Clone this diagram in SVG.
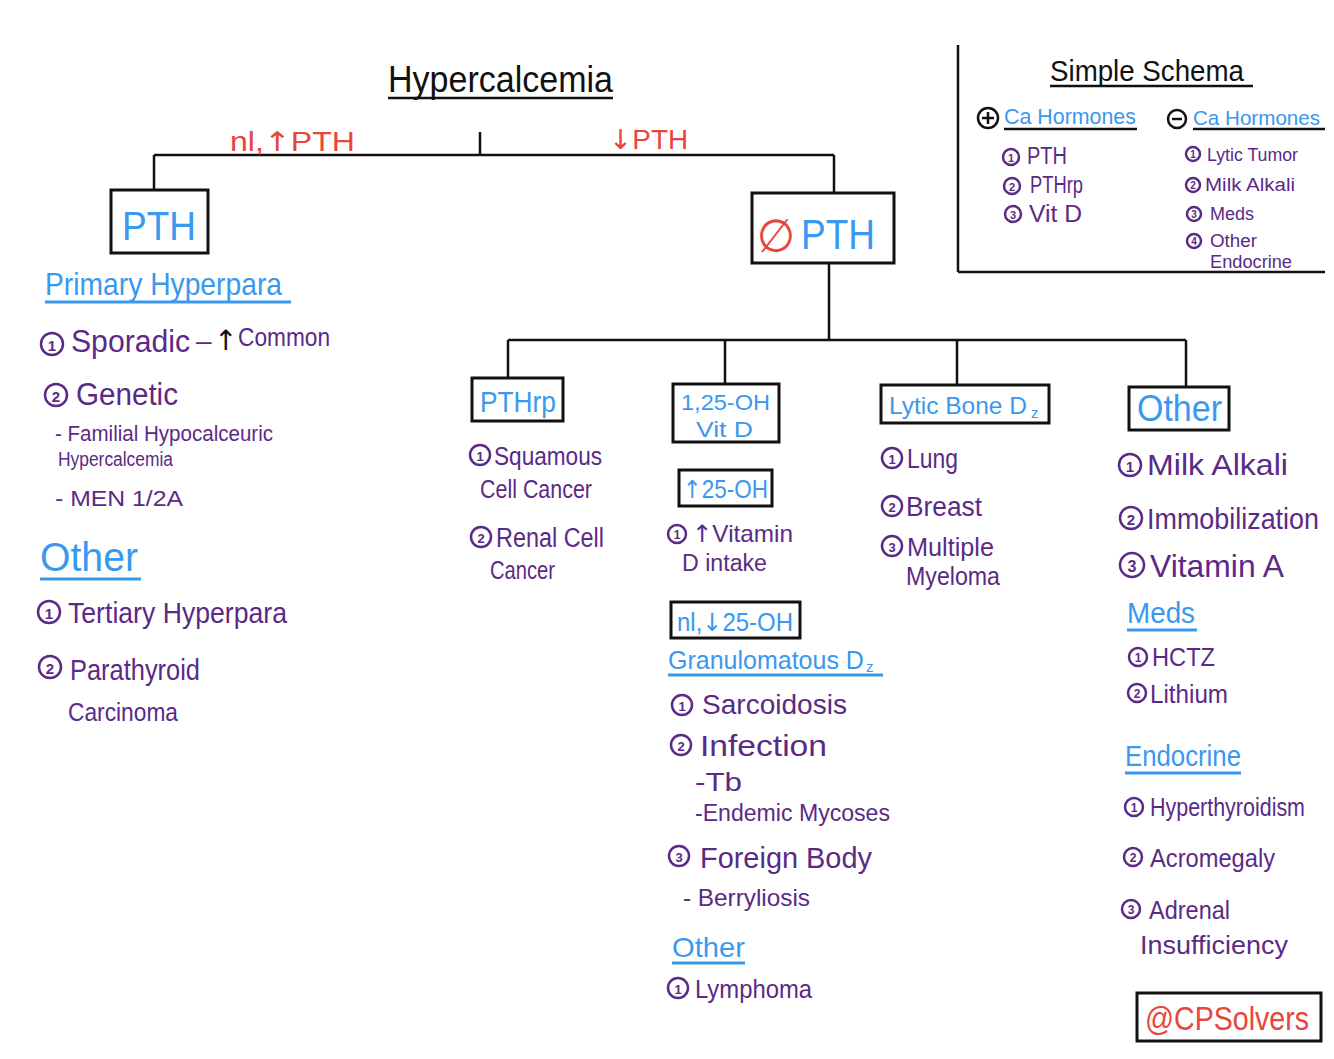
<svg xmlns="http://www.w3.org/2000/svg" width="1334" height="1059" viewBox="0 0 1334 1059">
<style>
text{font-family:"Liberation Sans","DejaVu Sans",sans-serif;}
.ar{font-family:"DejaVu Sans",sans-serif;}
.p{fill:#5b2a86;}
.b{fill:#3a98ee;}
.r{fill:#e8453c;}
.k{fill:#111;}
.box{fill:#fff;stroke:#111;stroke-width:3;}
.ln{stroke:#111;stroke-width:2.5;fill:none;}
.ub{stroke:#3a98ee;stroke-width:3;}
.uk{stroke:#111;stroke-width:2.5;}
.nc{fill:none;stroke:#5b2a86;stroke-width:2.5;}
.nd{fill:#5b2a86;text-anchor:middle;font-weight:bold;}
</style>
<rect width="1334" height="1059" fill="#fff"/>

<g id="connectors">
  <line class="ln" x1="480" y1="132" x2="480" y2="155"/>
  <line class="ln" x1="154" y1="155" x2="834" y2="155"/>
  <line class="ln" x1="154" y1="155" x2="154" y2="190"/>
  <line class="ln" x1="834" y1="155" x2="834" y2="193"/>
  <line class="ln" x1="829" y1="263" x2="829" y2="340"/>
  <line class="ln" x1="508" y1="340" x2="1186" y2="340"/>
  <line class="ln" x1="508" y1="340" x2="508" y2="378"/>
  <line class="ln" x1="725" y1="340" x2="725" y2="384"/>
  <line class="ln" x1="957" y1="340" x2="957" y2="385"/>
  <line class="ln" x1="1186" y1="340" x2="1186" y2="387"/>
  <text class="r" x="230" y="151" font-size="27" textLength="125" lengthAdjust="spacingAndGlyphs">nl,<tspan class="ar">↑</tspan>PTH</text>
  <text class="r" x="609" y="149" font-size="27" textLength="79" lengthAdjust="spacingAndGlyphs"><tspan class="ar">↓</tspan>PTH</text>
</g>

<g id="title">
  <text class="k" x="388" y="92" font-size="36" textLength="225" lengthAdjust="spacingAndGlyphs">Hypercalcemia</text>
  <line class="uk" x1="388" y1="98" x2="613" y2="98"/>
</g>

<g id="node-pth">
  <rect class="box" x="111" y="190" width="97" height="63"/>
  <text class="b" x="122" y="240" font-size="40" textLength="74" lengthAdjust="spacingAndGlyphs">PTH</text>
</g>

<g id="node-lowpth">
  <rect class="box" x="752" y="193" width="142" height="70"/>
  <text class="r" x="757" y="252" font-size="46" textLength="38" lengthAdjust="spacingAndGlyphs">∅</text>
  <text class="b" x="801" y="249" font-size="42" textLength="74" lengthAdjust="spacingAndGlyphs">PTH</text>
</g>

<g id="primary-hyperpara">
  <text class="b" x="45" y="295" font-size="32" textLength="237" lengthAdjust="spacingAndGlyphs">Primary Hyperpara</text>
  <line class="ub" x1="45" y1="302" x2="291" y2="302"/>
  <circle class="nc" cx="52" cy="344" r="11"/><text class="nd" x="52" y="351" font-size="15">1</text>
  <text class="p" x="71" y="352" font-size="31" textLength="119" lengthAdjust="spacingAndGlyphs">Sporadic</text>
  <text class="p" x="196" y="350" font-size="28">–</text>
  <text class="k ar" x="214" y="350" font-size="28">↑</text>
  <text class="p" x="238" y="346" font-size="25" textLength="92" lengthAdjust="spacingAndGlyphs">Common</text>
  <circle class="nc" cx="56" cy="395" r="11"/><text class="nd" x="56" y="402" font-size="15">2</text>
  <text class="p" x="76" y="405" font-size="31" textLength="102" lengthAdjust="spacingAndGlyphs">Genetic</text>
  <text class="p" x="55" y="441" font-size="22" textLength="218" lengthAdjust="spacingAndGlyphs">- Familial Hypocalceuric</text>
  <text class="p" x="58" y="466" font-size="20" textLength="115" lengthAdjust="spacingAndGlyphs">Hypercalcemia</text>
  <text class="p" x="55" y="506" font-size="22" textLength="128" lengthAdjust="spacingAndGlyphs">- MEN 1/2A</text>
</g>

<g id="other-left">
  <text class="b" x="40" y="571" font-size="40" textLength="98" lengthAdjust="spacingAndGlyphs">Other</text>
  <line class="ub" x1="40" y1="579" x2="141" y2="579"/>
  <circle class="nc" cx="49" cy="612" r="11"/><text class="nd" x="49" y="619" font-size="15">1</text>
  <text class="p" x="68" y="623" font-size="29" textLength="219" lengthAdjust="spacingAndGlyphs">Tertiary Hyperpara</text>
  <circle class="nc" cx="50" cy="667" r="11"/><text class="nd" x="50" y="674" font-size="15">2</text>
  <text class="p" x="70" y="680" font-size="29" textLength="130" lengthAdjust="spacingAndGlyphs">Parathyroid</text>
  <text class="p" x="68" y="721" font-size="25" textLength="110" lengthAdjust="spacingAndGlyphs">Carcinoma</text>
</g>

<g id="node-pthrp">
  <rect class="box" x="472" y="378" width="91" height="43"/>
  <text class="b" x="480" y="412" font-size="29" textLength="76" lengthAdjust="spacingAndGlyphs">PTHrp</text>
  <circle class="nc" cx="480" cy="455" r="10"/><text class="nd" x="480" y="461" font-size="13">1</text>
  <text class="p" x="494" y="465" font-size="26" textLength="108" lengthAdjust="spacingAndGlyphs">Squamous</text>
  <text class="p" x="480" y="498" font-size="26" textLength="112" lengthAdjust="spacingAndGlyphs">Cell Cancer</text>
  <circle class="nc" cx="481" cy="537" r="10"/><text class="nd" x="481" y="543" font-size="13">2</text>
  <text class="p" x="496" y="547" font-size="27" textLength="108" lengthAdjust="spacingAndGlyphs">Renal Cell</text>
  <text class="p" x="490" y="579" font-size="25" textLength="65" lengthAdjust="spacingAndGlyphs">Cancer</text>
</g>

<g id="node-vitd">
  <rect class="box" x="673" y="384" width="106" height="58"/>
  <text class="b" x="681" y="410" font-size="22" textLength="89" lengthAdjust="spacingAndGlyphs">1,25-OH</text>
  <text class="b" x="696" y="437" font-size="22" textLength="57" lengthAdjust="spacingAndGlyphs">Vit D</text>
</g>

<g id="node-up25">
  <rect class="box" x="679" y="470" width="93" height="36"/>
  <text class="b" x="683" y="498" font-size="25" textLength="85" lengthAdjust="spacingAndGlyphs"><tspan class="ar">↑</tspan>25-OH</text>
  <circle class="nc" cx="677" cy="534" r="9"/><text class="nd" x="677" y="539" font-size="12">1</text>
  <text class="p" x="692" y="542" font-size="24" textLength="101" lengthAdjust="spacingAndGlyphs"><tspan class="ar">↑</tspan>Vitamin</text>
  <text class="p" x="682" y="571" font-size="23" textLength="85" lengthAdjust="spacingAndGlyphs">D intake</text>
</g>

<g id="node-nl25">
  <rect class="box" x="671" y="602" width="129" height="36"/>
  <text class="b" x="677" y="631" font-size="25" textLength="116" lengthAdjust="spacingAndGlyphs">nl,<tspan class="ar">↓</tspan>25-OH</text>
  <text class="b" x="668" y="669" font-size="25">Granulomatous D</text>
  <text class="b" x="866" y="672" font-size="15">z</text>
  <line class="ub" x1="668" y1="675" x2="883" y2="675"/>
  <circle class="nc" cx="682" cy="705" r="10"/><text class="nd" x="682" y="711" font-size="13">1</text>
  <text class="p" x="702" y="714" font-size="28" textLength="145" lengthAdjust="spacingAndGlyphs">Sarcoidosis</text>
  <circle class="nc" cx="681" cy="745" r="10"/><text class="nd" x="681" y="751" font-size="13">2</text>
  <text class="p" x="700" y="756" font-size="29" textLength="127" lengthAdjust="spacingAndGlyphs">Infection</text>
  <text class="p" x="695" y="791" font-size="25" textLength="47" lengthAdjust="spacingAndGlyphs">-Tb</text>
  <text class="p" x="695" y="821" font-size="23" textLength="195" lengthAdjust="spacingAndGlyphs">-Endemic Mycoses</text>
  <circle class="nc" cx="679" cy="856" r="10"/><text class="nd" x="679" y="862" font-size="13">3</text>
  <text class="p" x="700" y="868" font-size="29" textLength="172" lengthAdjust="spacingAndGlyphs">Foreign Body</text>
  <text class="p" x="683" y="906" font-size="24" textLength="127" lengthAdjust="spacingAndGlyphs">- Berryliosis</text>
  <text class="b" x="672" y="957" font-size="28" textLength="73" lengthAdjust="spacingAndGlyphs">Other</text>
  <line class="ub" x1="672" y1="963" x2="745" y2="963"/>
  <circle class="nc" cx="678" cy="988" r="10"/><text class="nd" x="678" y="994" font-size="13">1</text>
  <text class="p" x="695" y="998" font-size="26" textLength="117" lengthAdjust="spacingAndGlyphs">Lymphoma</text>
</g>

<g id="node-lytic">
  <rect class="box" x="881" y="385" width="168" height="38"/>
  <text class="b" x="889" y="414" font-size="24.5">Lytic Bone D</text>
  <text class="b" x="1031" y="418" font-size="15">z</text>
  <circle class="nc" cx="892" cy="458" r="10"/><text class="nd" x="892" y="464" font-size="13">1</text>
  <text class="p" x="907" y="468" font-size="27" textLength="51" lengthAdjust="spacingAndGlyphs">Lung</text>
  <circle class="nc" cx="892" cy="506" r="10"/><text class="nd" x="892" y="512" font-size="13">2</text>
  <text class="p" x="906" y="516" font-size="27" textLength="76" lengthAdjust="spacingAndGlyphs">Breast</text>
  <circle class="nc" cx="892" cy="546" r="10"/><text class="nd" x="892" y="552" font-size="13">3</text>
  <text class="p" x="907" y="556" font-size="25" textLength="87" lengthAdjust="spacingAndGlyphs">Multiple</text>
  <text class="p" x="906" y="585" font-size="25" textLength="94" lengthAdjust="spacingAndGlyphs">Myeloma</text>
</g>

<g id="node-other-right">
  <rect class="box" x="1129" y="387" width="100" height="43"/>
  <text class="b" x="1137" y="421" font-size="36" textLength="85" lengthAdjust="spacingAndGlyphs">Other</text>
  <circle class="nc" cx="1130" cy="465" r="11"/><text class="nd" x="1130" y="472" font-size="15">1</text>
  <text class="p" x="1147" y="475" font-size="30" textLength="141" lengthAdjust="spacingAndGlyphs">Milk Alkali</text>
  <circle class="nc" cx="1131" cy="518" r="11"/><text class="nd" x="1131" y="525" font-size="15">2</text>
  <text class="p" x="1147" y="529" font-size="29" textLength="172" lengthAdjust="spacingAndGlyphs">Immobilization</text>
  <circle class="nc" cx="1132" cy="565" r="12"/><text class="nd" x="1132" y="572" font-size="16">3</text>
  <text class="p" x="1150" y="577" font-size="32" textLength="134" lengthAdjust="spacingAndGlyphs">Vitamin A</text>
  <text class="b" x="1127" y="623" font-size="29" textLength="68" lengthAdjust="spacingAndGlyphs">Meds</text>
  <line class="ub" x1="1127" y1="630" x2="1197" y2="630"/>
  <circle class="nc" cx="1138" cy="657" r="9"/><text class="nd" x="1138" y="662" font-size="12">1</text>
  <text class="p" x="1152" y="666" font-size="26" textLength="63" lengthAdjust="spacingAndGlyphs">HCTZ</text>
  <circle class="nc" cx="1137" cy="693" r="9"/><text class="nd" x="1137" y="698" font-size="12">2</text>
  <text class="p" x="1150" y="703" font-size="26" textLength="78" lengthAdjust="spacingAndGlyphs">Lithium</text>
  <text class="b" x="1125" y="766" font-size="29" textLength="116" lengthAdjust="spacingAndGlyphs">Endocrine</text>
  <line class="ub" x1="1125" y1="773" x2="1241" y2="773"/>
  <circle class="nc" cx="1134" cy="807" r="9"/><text class="nd" x="1134" y="812" font-size="12">1</text>
  <text class="p" x="1150" y="816" font-size="25" textLength="155" lengthAdjust="spacingAndGlyphs">Hyperthyroidism</text>
  <circle class="nc" cx="1133" cy="857" r="9"/><text class="nd" x="1133" y="862" font-size="12">2</text>
  <text class="p" x="1150" y="867" font-size="25" textLength="125" lengthAdjust="spacingAndGlyphs">Acromegaly</text>
  <circle class="nc" cx="1131" cy="909" r="9"/><text class="nd" x="1131" y="914" font-size="12">3</text>
  <text class="p" x="1149" y="919" font-size="26" textLength="81" lengthAdjust="spacingAndGlyphs">Adrenal</text>
  <text class="p" x="1140" y="954" font-size="25" textLength="148" lengthAdjust="spacingAndGlyphs">Insufficiency</text>
</g>

<g id="credit">
  <rect class="box" x="1137" y="993" width="184" height="48"/>
  <text class="r" x="1145" y="1030" font-size="33" textLength="164" lengthAdjust="spacingAndGlyphs">@CPSolvers</text>
</g>

<g id="simple-schema">
  <line class="uk" x1="958" y1="45" x2="958" y2="272"/>
  <line class="uk" x1="958" y1="272" x2="1325" y2="272"/>
  <text class="k" x="1050" y="81" font-size="30" textLength="194" lengthAdjust="spacingAndGlyphs">Simple Schema</text>
  <line class="uk" x1="1050" y1="86" x2="1253" y2="86"/>
  <circle cx="988" cy="118" r="10" fill="none" stroke="#111" stroke-width="2.5"/>
  <line class="uk" x1="982" y1="118" x2="994" y2="118"/><line class="uk" x1="988" y1="112" x2="988" y2="124"/>
  <text class="b" x="1004" y="124" font-size="21.4">Ca Hormones</text>
  <line class="uk" x1="1004" y1="129" x2="1137" y2="129"/>
  <circle cx="1177" cy="119" r="9" fill="none" stroke="#111" stroke-width="2.5"/>
  <line class="uk" x1="1172" y1="119" x2="1182" y2="119"/>
  <text class="b" x="1193" y="125" font-size="20.6">Ca Hormones</text>
  <line class="uk" x1="1193" y1="129" x2="1325" y2="129"/>
  <circle class="nc" cx="1011" cy="157" r="8"/><text class="nd" x="1011" y="162" font-size="11">1</text>
  <text class="p" x="1027" y="164" font-size="23" textLength="40" lengthAdjust="spacingAndGlyphs">PTH</text>
  <circle class="nc" cx="1012" cy="186" r="8"/><text class="nd" x="1012" y="191" font-size="11">2</text>
  <text class="p" x="1030" y="193" font-size="23" textLength="53" lengthAdjust="spacingAndGlyphs">PTHrp</text>
  <circle class="nc" cx="1013" cy="214" r="8"/><text class="nd" x="1013" y="219" font-size="11">3</text>
  <text class="p" x="1029" y="222" font-size="23" textLength="53" lengthAdjust="spacingAndGlyphs">Vit D</text>
  <circle class="nc" cx="1193" cy="154" r="7"/><text class="nd" x="1193" y="158" font-size="10">1</text>
  <text class="p" x="1207" y="161" font-size="18" textLength="91" lengthAdjust="spacingAndGlyphs">Lytic Tumor</text>
  <circle class="nc" cx="1193" cy="185" r="7"/><text class="nd" x="1193" y="189" font-size="10">2</text>
  <text class="p" x="1205" y="191" font-size="18" textLength="90" lengthAdjust="spacingAndGlyphs">Milk Alkali</text>
  <circle class="nc" cx="1194" cy="214" r="7"/><text class="nd" x="1194" y="218" font-size="10">3</text>
  <text class="p" x="1210" y="220" font-size="18" textLength="44" lengthAdjust="spacingAndGlyphs">Meds</text>
  <circle class="nc" cx="1194" cy="241" r="7"/><text class="nd" x="1194" y="245" font-size="10">4</text>
  <text class="p" x="1210" y="247" font-size="18" textLength="47" lengthAdjust="spacingAndGlyphs">Other</text>
  <text class="p" x="1210" y="268" font-size="18" textLength="82" lengthAdjust="spacingAndGlyphs">Endocrine</text>
</g>
</svg>
